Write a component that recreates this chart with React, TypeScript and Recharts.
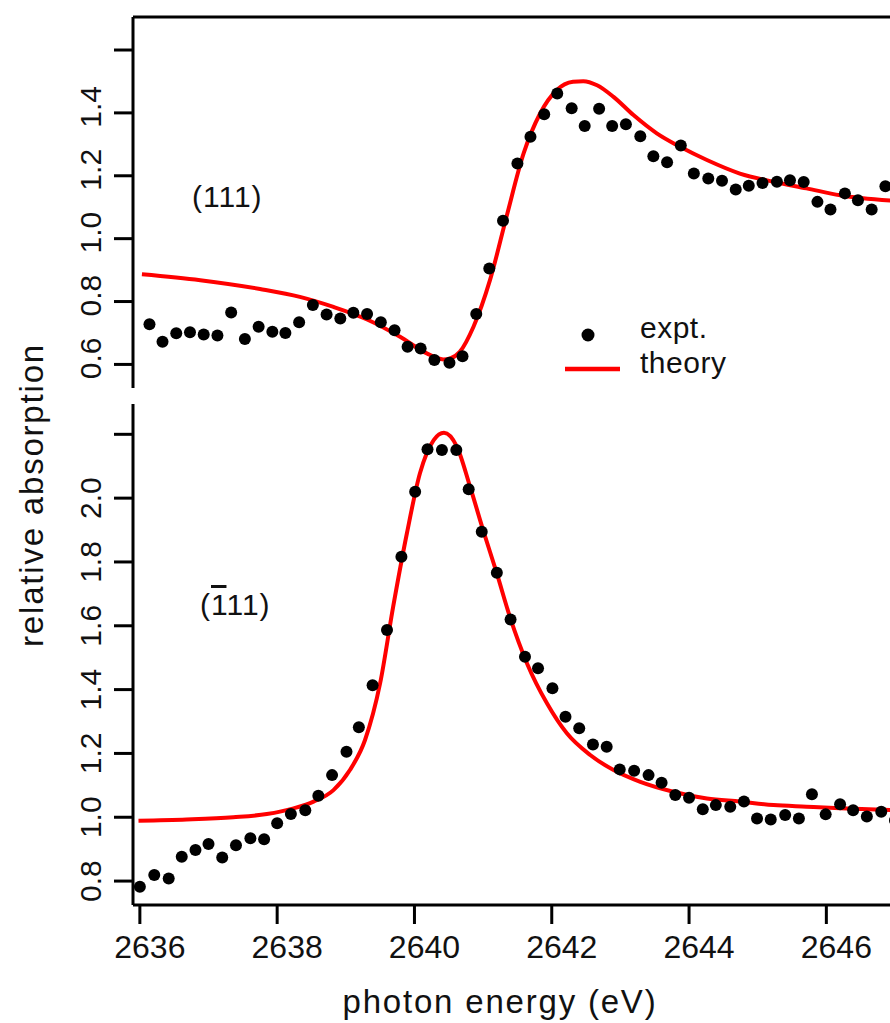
import React from 'react';
import {
    ComposedChart,
    Scatter,
    Line,
    XAxis,
    YAxis,
    Label,
    Legend,
    ReferenceLine
} from 'recharts';

const FONT = '"Liberation Sans", Arial, Helvetica, sans-serif';
const INK = '#111';
const RED = '#ff0000';

// shared x axis (photon energy, eV)
const energyDomain = [2635.9, 2647];
const energyTicks = [2636, 2638, 2640, 2642, 2644, 2646];

// (111) panel
const topTicks = [0.6, 0.8, 1.0, 1.2, 1.4, 1.6];
const topDomain = [0.525, 1.705];
const topExptE = [
    2636.14, 2636.33, 2636.53, 2636.73, 2636.93, 2637.13, 2637.33, 2637.53, 2637.73, 2637.93,
    2638.12, 2638.32, 2638.52, 2638.72, 2638.92, 2639.11, 2639.31, 2639.51, 2639.71, 2639.90,
    2640.09, 2640.29, 2640.51, 2640.70, 2640.90, 2641.09, 2641.29, 2641.50, 2641.69, 2641.89,
    2642.08, 2642.29, 2642.48, 2642.69, 2642.88, 2643.08, 2643.29, 2643.48, 2643.68, 2643.88,
    2644.07, 2644.28, 2644.48, 2644.68, 2644.87, 2645.07, 2645.28, 2645.47, 2645.67, 2645.87,
    2646.06, 2646.27, 2646.46, 2646.66, 2646.86
];
const topExptV = [
    0.728, 0.672, 0.699, 0.702, 0.695, 0.692, 0.765, 0.681, 0.720, 0.704,
    0.700, 0.734, 0.789, 0.759, 0.746, 0.764, 0.760, 0.734, 0.709, 0.656,
    0.651, 0.614, 0.605, 0.626, 0.760, 0.905, 1.057, 1.239, 1.324, 1.396,
    1.462, 1.415, 1.358, 1.413, 1.358, 1.364, 1.326, 1.262, 1.243, 1.296,
    1.207, 1.191, 1.184, 1.156, 1.168, 1.177, 1.181, 1.186, 1.180, 1.117,
    1.093, 1.144, 1.122, 1.093, 1.167
];
const topTheoryE = [
    2636.03, 2636.88, 2637.75, 2638.33, 2638.82, 2639.31, 2639.79, 2640.18, 2640.42, 2640.52,
    2640.66, 2640.86, 2641.10, 2641.34, 2641.59, 2641.83, 2642.07, 2642.31, 2642.46, 2642.66,
    2642.90, 2643.19, 2643.53, 2643.87, 2644.26, 2644.74, 2645.23, 2645.71, 2646.20, 2647.0
];
const topTheoryV = [
    0.887, 0.868, 0.840, 0.815, 0.783, 0.743, 0.688, 0.635, 0.616, 0.619,
    0.640, 0.720, 0.868, 1.069, 1.271, 1.398, 1.472, 1.499, 1.501, 1.488,
    1.451, 1.393, 1.335, 1.292, 1.250, 1.207, 1.181, 1.160, 1.138, 1.120
];

// (-111) panel
const bottomTicks = [0.8, 1.0, 1.2, 1.4, 1.6, 1.8, 2.0, 2.2];
const bottomDomain = [0.725, 2.295];
const bottomExptE = [
    2636.00, 2636.21, 2636.42, 2636.61, 2636.81, 2637.00, 2637.20, 2637.40, 2637.61, 2637.81,
    2638.00, 2638.20, 2638.41, 2638.60, 2638.80, 2639.01, 2639.19, 2639.39, 2639.60, 2639.81,
    2640.01, 2640.19, 2640.40, 2640.61, 2640.79, 2640.98, 2641.20, 2641.40, 2641.61, 2641.80,
    2642.01, 2642.20, 2642.40, 2642.60, 2642.80, 2642.99, 2643.20, 2643.41, 2643.60, 2643.80,
    2644.00, 2644.20, 2644.39, 2644.60, 2644.80, 2644.99, 2645.19, 2645.40, 2645.60, 2645.79,
    2645.99, 2646.20, 2646.39, 2646.59, 2646.80, 2647.00
];
const bottomExptV = [
    0.782, 0.819, 0.808, 0.876, 0.897, 0.916, 0.874, 0.912, 0.934, 0.931,
    0.981, 1.010, 1.022, 1.067, 1.132, 1.205, 1.282, 1.414, 1.587, 1.816,
    2.020, 2.153, 2.151, 2.151, 2.028, 1.895, 1.766, 1.620, 1.503, 1.467,
    1.404, 1.315, 1.279, 1.228, 1.221, 1.150, 1.146, 1.132, 1.108, 1.070,
    1.061, 1.025, 1.038, 1.033, 1.049, 0.996, 0.993, 1.007, 0.996, 1.072,
    1.009, 1.041, 1.022, 1.002, 1.017, 0.990
];
const bottomTheoryE = [
    2635.98, 2636.68, 2637.36, 2637.85, 2638.24, 2638.53, 2638.82, 2639.06, 2639.28, 2639.50,
    2639.69, 2639.89, 2640.08, 2640.28, 2640.43, 2640.62, 2640.81, 2641.00, 2641.20, 2641.39,
    2641.64, 2641.93, 2642.22, 2642.56, 2642.90, 2643.29, 2643.77, 2644.26, 2644.74, 2645.23,
    2645.71, 2646.20, 2647.0
];
const bottomTheoryV = [
    0.989, 0.993, 1.000, 1.010, 1.028, 1.049, 1.085, 1.148, 1.242, 1.420,
    1.660, 1.890, 2.078, 2.182, 2.205, 2.161, 2.036, 1.900, 1.764, 1.628,
    1.482, 1.357, 1.263, 1.195, 1.148, 1.111, 1.080, 1.059, 1.049, 1.038,
    1.033, 1.028, 1.022
];

const pairs = (es: number[], vs: number[]) => es.map((e, i) => ({ e, v: vs[i] }));

const topExpt = pairs(topExptE, topExptV);
const topTheory = pairs(topTheoryE, topTheoryV);
const bottomExpt = pairs(bottomExptE, bottomExptV);
const bottomTheory = pairs(bottomTheoryE, bottomTheoryV);

const axisStroke = { stroke: '#000', strokeWidth: 3 };

const Dot = (p: any) => <circle cx={p.cx} cy={p.cy} r={6} fill="#000" />;

// y tick labels are rotated, reading bottom to top
const makeYTick = (maxLabel: number, shift: number) => (p: any) => {
    const v = p.payload.value;
    if (v > maxLabel + 1e-6) return <g />;
    const cy = p.y + shift;
    return (
        <text x={101} y={cy} transform={`rotate(-90 101 ${cy})`} textAnchor="middle"
            fontSize={30} fontFamily={FONT} fill={INK}>
            {v.toFixed(1)}
        </text>
    );
};

const XTick = (p: any) => (
    <text x={p.x + 10} y={958} textAnchor="middle" fontSize={32} fontFamily={FONT} fill={INK}>
        {p.payload.value}
    </text>
);

const LegendBox = () => (
    <svg width={200} height={80} style={{ display: 'block' }}>
        <circle cx={28} cy={25} r={6.5} fill="#000" />
        <line x1={5} x2={60} y1={59} y2={59} stroke={RED} strokeWidth={4.5} />
        <text x={80} y={28} fontSize={30} fontFamily={FONT} fill={INK} letterSpacing={0.5}>expt.</text>
        <text x={80} y={63} fontSize={30} fontFamily={FONT} fill={INK} letterSpacing={0.5}>theory</text>
    </svg>
);

const layer: React.CSSProperties = { position: 'absolute', left: 0, top: 0 };

export default function App() {
    return (
        <div style={{ position: 'absolute', left: 0, top: 0, width: 890, height: 1023, overflow: 'hidden', background: '#fff' }}>
            {/* upper panel: (111) */}
            <div style={layer}>
                <ComposedChart width={895} height={1023} margin={{ top: 17, right: 0, bottom: 635, left: 0 }}>
                    <XAxis type="number" dataKey="e" domain={energyDomain} allowDataOverflow hide />
                    <YAxis
                        type="number"
                        dataKey="v"
                        domain={topDomain}
                        ticks={topTicks}
                        allowDataOverflow
                        width={133}
                        tickSize={19}
                        axisLine={axisStroke}
                        tickLine={axisStroke}
                        tick={makeYTick(1.4, -6)}
                    >
                        <Label content={() => (
                            <text x={192} y={207} fontSize={30} fontFamily={FONT} fill={INK} letterSpacing={1}>(111)</text>
                        )} />
                    </YAxis>
                    <ReferenceLine y={1.705} stroke="#000" strokeWidth={3} ifOverflow="visible" />
                    <Scatter data={topExpt} dataKey="v" shape={Dot} isAnimationActive={false} />
                    <Line data={topTheory} dataKey="v" type="monotone" stroke={RED} strokeWidth={4}
                        dot={false} activeDot={false} isAnimationActive={false} />
                    <Legend
                        layout="vertical"
                        align="center"
                        verticalAlign="middle"
                        wrapperStyle={{ left: 560, top: 310, width: 200, height: 80 }}
                        content={() => <LegendBox />}
                    />
                </ComposedChart>
            </div>

            {/* lower panel: (-111) */}
            <div style={layer}>
                <ComposedChart width={895} height={1023} margin={{ top: 404, right: 0, bottom: 0, left: 0 }}>
                    <XAxis
                        type="number"
                        dataKey="e"
                        domain={energyDomain}
                        ticks={energyTicks}
                        allowDataOverflow
                        height={118}
                        tickSize={19}
                        axisLine={axisStroke}
                        tickLine={axisStroke}
                        tick={XTick}
                    >
                        <Label content={() => (
                            <text x={500} y={1013} textAnchor="middle" fontSize={33} fontFamily={FONT} fill={INK} letterSpacing={1.8}>
                                photon energy (eV)
                            </text>
                        )} />
                    </XAxis>
                    <YAxis
                        type="number"
                        dataKey="v"
                        domain={bottomDomain}
                        ticks={bottomTicks}
                        allowDataOverflow
                        width={133}
                        tickSize={19}
                        axisLine={axisStroke}
                        tickLine={axisStroke}
                        tick={makeYTick(2.0, 0)}
                    >
                        <Label content={() => (
                            <text x={43} y={495} transform="rotate(-90 43 495)" textAnchor="middle"
                                fontSize={33} fontFamily={FONT} fill={INK} letterSpacing={1.8}>
                                relative absorption
                            </text>
                        )} />
                        <Label content={() => (
                            <text x={200} y={615} fontSize={30} fontFamily={FONT} fill={INK} letterSpacing={1}>
                                (<tspan style={{ textDecoration: 'overline' }}>1</tspan>11)
                            </text>
                        )} />
                    </YAxis>
                    <Scatter data={bottomExpt} dataKey="v" shape={Dot} isAnimationActive={false} />
                    <Line data={bottomTheory} dataKey="v" type="monotone" stroke={RED} strokeWidth={4}
                        dot={false} activeDot={false} isAnimationActive={false} />
                </ComposedChart>
            </div>
        </div>
    );
}
